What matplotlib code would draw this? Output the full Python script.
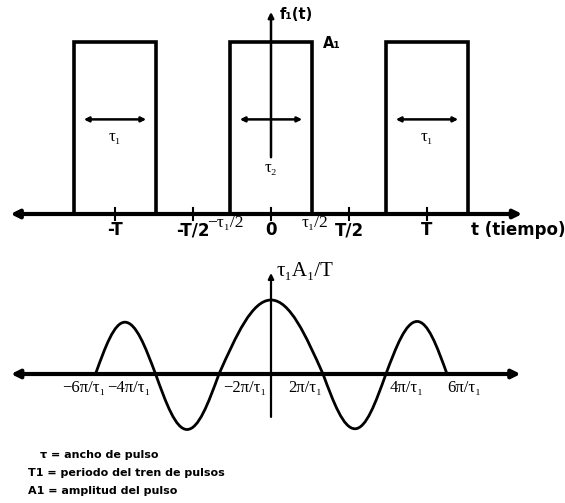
import matplotlib
matplotlib.use('Agg')
import matplotlib.pyplot as plt
from matplotlib.path import Path
from matplotlib.patches import PathPatch

# pulse train (time in units of T, amplitude in units of A1)
T = 1.0
tau = 0.52
A1 = 1.0
pulse_centers = [-T, 0.0, T]
tick_times = [-T, -T / 2, 0.0, T / 2, T]

# spectrum envelope: zero crossings and lobe extrema (x in units of pi/tau1)
env_zeros = [-6.75, -4.44, -2.0, 2.0, 4.42, 6.77]
env_peaks_x = [-5.62, -3.23, 0.0, 3.23, 5.62]
env_peaks_y = [0.70, -0.75, 1.0, -0.74, 0.71]

freq_labels = ['−6π/τ₁', '−4π/τ₁', '−2π/τ₁', '2π/τ₁', '4π/τ₁', '6π/τ₁']
freq_label_x = [-7.2, -5.45, -1.0, 1.3, 5.2, 7.45]

notes = ['τ = ancho de pulso',
         'T1 = periodo del tren de pulsos',
         'A1 = amplitud del pulso']
notes_x = [40, 28, 28]

SANS = ['DejaVu Sans']
SERIF = ['Liberation Serif', 'DejaVu Serif']

fig = plt.figure(figsize=(5.65, 5.03), dpi=100)
ax1 = fig.add_axes([0, 253 / 503, 1, 250 / 503])
ax2 = fig.add_axes([0, 0, 1, 253 / 503])
for ax in (ax1, ax2):
    ax.axis('off')

ax1.set_xlim(-271 / 156, 294 / 156)
ax1.set_ylim(-36 / 172, 214 / 172)
ax2.set_xlim(-271 / 26, 294 / 26)
ax2.set_ylim(-129 / 74, 124 / 74)

# ---- top: rectangular pulse train ----
ax1.annotate('', xy=(1.61, 0), xytext=(-1.67, 0),
             arrowprops=dict(arrowstyle='<|-|>', lw=3, color='black',
                             mutation_scale=12, shrinkA=0, shrinkB=0))
for c in pulse_centers:
    ax1.plot([c - tau / 2, c - tau / 2, c + tau / 2, c + tau / 2],
             [0, A1, A1, 0], color='black', lw=2.6, solid_joinstyle='miter')
    ax1.annotate('', xy=(c + 0.2, 0.55), xytext=(c - 0.2, 0.55),
                 arrowprops=dict(arrowstyle='<|-|>', lw=1.8, color='black',
                                 mutation_scale=7, shrinkA=0, shrinkB=0))
for t in tick_times:
    ax1.plot([t, t], [-0.035, 0.035], color='black', lw=1.5)

# vertical axis
ax1.annotate('', xy=(0, 1.175), xytext=(0, 0.33),
             arrowprops=dict(arrowstyle='-|>', lw=1.8, color='black',
                             mutation_scale=8, shrinkA=0, shrinkB=0))
ax1.text(0.055, 1.16, 'f₁(t)', fontsize=10.5, fontweight='bold', family=SANS,
         ha='left', va='center')
ax1.text(0.33, 0.99, 'A₁', fontsize=10.5, fontweight='bold', family=SANS,
         ha='left', va='center')
ax1.text(-T, 0.45, 'τ₁', fontsize=12, family=SERIF, ha='center', va='center')
ax1.text(T, 0.45, 'τ₁', fontsize=12, family=SERIF, ha='center', va='center')
ax1.text(0.0, 0.27, 'τ₂', fontsize=12, family=SERIF, ha='center', va='center')

bold_ticks = {'-T': -T, '-T/2': -T / 2, '0': 0.0, 'T/2': T / 2, 'T': T}
for lab, t in bold_ticks.items():
    ax1.text(t, -0.095, lab, fontsize=12, fontweight='bold', family=SANS,
             ha='center', va='center')
ax1.text(-tau / 2 - 0.03, -0.05, '−τ₁/2', fontsize=12.5, family=SERIF,
         ha='center', va='center')
ax1.text(tau / 2 + 0.02, -0.05, 'τ₁/2', fontsize=12.5, family=SERIF,
         ha='center', va='center')
ax1.text(1.28, -0.095, 't (tiempo)', fontsize=12, fontweight='bold', family=SANS,
         ha='left', va='center')

# ---- bottom: spectrum envelope ----
ax2.annotate('', xy=(9.6, 0), xytext=(-10.0, 0),
             arrowprops=dict(arrowstyle='<|-|>', lw=3, color='black',
                             mutation_scale=12, shrinkA=0, shrinkB=0))
ax2.annotate('', xy=(0, 1.365), xytext=(0, -0.58),
             arrowprops=dict(arrowstyle='-|>', lw=1.6, color='black',
                             mutation_scale=8, shrinkA=0, shrinkB=0))

# knots alternate zero / extremum; each quarter wave is one cubic segment
knots_x = [env_zeros[0]]
knots_y = [0.0]
for i in range(len(env_peaks_x)):
    knots_x += [env_peaks_x[i], env_zeros[i + 1]]
    knots_y += [env_peaks_y[i], 0.0]

verts = [(knots_x[0], knots_y[0])]
codes = [Path.MOVETO]
for i in range(len(knots_x) - 1):
    x0, y0 = knots_x[i], knots_y[i]
    x1, y1 = knots_x[i + 1], knots_y[i + 1]
    dx = x1 - x0
    if y0 == 0:      # rising/falling from a zero towards an extremum
        c1 = (x0 + 0.334 * dx, y0 + 0.525 * (y1 - y0))
        c2 = (x0 + 0.637 * dx, y1)
    else:            # from an extremum back down to a zero
        c1 = (x0 + 0.363 * dx, y0)
        c2 = (x0 + 0.666 * dx, y1 + 0.525 * (y0 - y1))
    verts += [c1, c2, (x1, y1)]
    codes += [Path.CURVE4] * 3
ax2.add_patch(PathPatch(Path(verts, codes), fill=False, lw=2.0,
                        edgecolor='black'))

for lab, x in zip(freq_labels, freq_label_x):
    ax2.text(x, -0.19, lab, fontsize=12, family=SERIF, ha='center', va='center')
ax2.text(0.2, 1.39, 'τ₁A₁/T', fontsize=15, family=SERIF, ha='left',
         va='center')

for i, (line, x) in enumerate(zip(notes, notes_x)):
    ax2.text(x / 565, 1 - (205 + 18 * i) / 253, line, fontsize=8,
             fontweight='bold', family=SANS, ha='left', va='center',
             transform=ax2.transAxes)

fig.savefig('out.png', dpi=100)
